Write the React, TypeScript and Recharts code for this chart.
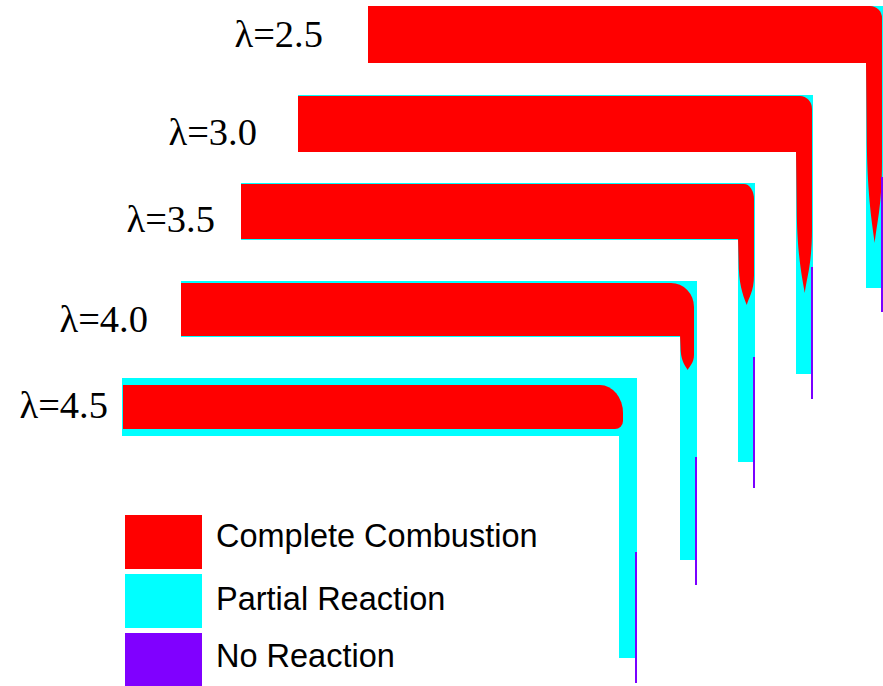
import React from 'react';
import { ComposedChart, XAxis, YAxis, ReferenceArea, ReferenceLine, Scatter } from 'recharts';

const W = 883;
const H = 686;

// channel / flame geometry per equivalence ratio (plot units = picture px)
const LAMBDAS = ['2.5', '3.0', '3.5', '4.0', '4.5'];
const CHANNEL_LEFT = [368, 298, 241, 181, 122];
const CHANNEL_RIGHT = [883, 813, 755, 697, 637];
const CHANNEL_TOP = [6, 95, 183, 281, 378];
const CHANNEL_BOTTOM = [63, 152, 240, 337, 436];
const ARM_INNER = [866, 796, 738, 680, 619];
const ARM_END = [288, 374, 462, 560, 658];
const FLAME_LEFT = [368, 298, 241, 181, 123];
const FLAME_TOP = [6, 96, 184, 283, 385];
const FLAME_BOTTOM = [63, 152, 239, 336, 429];
const FLAME_RIGHT = [882, 812, 754, 694, 623];
const FLAME_TIP = [243, 293, 305, 370, null];
const UNBURNT_START = [177, 267, 357, 457, 552];
const UNBURNT_END = [312, 399, 488, 585, 683];
const LABEL_X = [323, 257, 215, 148, 108];
const LABEL_Y = [47, 145, 232, 332, 418];

const LEGEND_NAMES = ['Complete Combustion', 'Partial Reaction', 'No Reaction'];
const LEGEND_BASELINE = [547, 610, 667];

const RED = '#ff0000';
const CYAN = '#00ffff';
const PURPLE = '#7a00ff';
const LEGEND_COLORS = [RED, CYAN, '#8000ff'];

// corner rounding of the flame front
const CORNER = [
  { rx: 12, ry: 12, rb: 0 },
  { rx: 12, ry: 13, rb: 0 },
  { rx: 10, ry: 15, rb: 0 },
  { rx: 23, ry: 24, rb: 0 },
  { rx: 23, ry: 28, rb: 8 },
];

const bodyShape = (i: number) => (p: any) => {
  const { x, y, width: w, height: h } = p;
  const { rx, ry, rb } = CORNER[i];
  const d = `M${x},${y} H${x + w - rx} A${rx},${ry} 0 0 1 ${x + w},${y + ry} V${y + h - rb} ` +
    (rb ? `A${rb},${rb} 0 0 1 ${x + w - rb},${y + h} ` : '') + `H${x} Z`;
  return <path d={d} fill={RED} />;
};

const tailShape = (p: any) => {
  const { x, y, width: w, height: h } = p;
  const d = `M${x},${y - 1} H${x + w} V${y + 0.55 * h} ` +
    `C${x + w},${y + 0.8 * h} ${x + 0.65 * w},${y + 0.9 * h} ${x + 0.55 * w},${y + h} ` +
    `C${x + 0.4 * w},${y + 0.9 * h} ${x + 0.1 * w},${y + 0.75 * h} ${x + 0.05 * w},${y + 0.45 * h} Z`;
  return <path d={d} fill={RED} />;
};

const labelData = LAMBDAS.map((l, i) => ({ x: LABEL_X[i], y: LABEL_Y[i], label: `λ=${l}` }));

const LabelText = (p: any) => (
  <text x={p.cx} y={p.cy} textAnchor="end" fontFamily="'Liberation Serif', 'Times New Roman', serif"
    fontSize={38.5} fill="#000">{p.payload.label}</text>
);

export default function App() {
  return (
    <div style={{ position: 'absolute', left: 0, top: 0, width: W, height: H, background: '#fff' }}>
      <ComposedChart width={W} height={H} margin={{ top: 0, right: 0, bottom: 0, left: 0 }}>
        <XAxis type="number" dataKey="x" domain={[0, W]} hide allowDataOverflow />
        <YAxis type="number" dataKey="y" domain={[0, H]} reversed hide allowDataOverflow />
        {LAMBDAS.map((_, i) => (
          <ReferenceArea key={`ch${i}`} x1={CHANNEL_LEFT[i]} x2={CHANNEL_RIGHT[i]} y1={CHANNEL_TOP[i]}
            y2={CHANNEL_BOTTOM[i]} fill={CYAN} fillOpacity={1} stroke="none" ifOverflow="visible" />
        ))}
        {LAMBDAS.map((_, i) => (
          <ReferenceArea key={`arm${i}`} x1={ARM_INNER[i]} x2={CHANNEL_RIGHT[i]} y1={CHANNEL_BOTTOM[i] - 1}
            y2={ARM_END[i]} fill={CYAN} fillOpacity={1} stroke="none" ifOverflow="visible" />
        ))}
        {LAMBDAS.map((_, i) => (
          <ReferenceArea key={`fl${i}`} x1={FLAME_LEFT[i]} x2={FLAME_RIGHT[i]} y1={FLAME_TOP[i]}
            y2={FLAME_BOTTOM[i]} ifOverflow="visible" shape={bodyShape(i)} />
        ))}
        {LAMBDAS.map((_, i) =>
          FLAME_TIP[i] == null ? null : (
            <ReferenceArea key={`tail${i}`} x1={ARM_INNER[i]} x2={FLAME_RIGHT[i]} y1={FLAME_BOTTOM[i]}
              y2={FLAME_TIP[i] as number} ifOverflow="visible" shape={tailShape} />
          )
        )}
        {LAMBDAS.map((_, i) => (
          <ReferenceLine key={`nr${i}`} ifOverflow="visible"
            segment={[{ x: CHANNEL_RIGHT[i] - 1, y: UNBURNT_START[i] }, { x: CHANNEL_RIGHT[i] - 1, y: UNBURNT_END[i] }]}
            stroke={PURPLE} strokeWidth={2} />
        ))}
        <Scatter data={labelData} dataKey="y" shape={LabelText} isAnimationActive={false} />
      </ComposedChart>
      {LEGEND_NAMES.map((name, i) => (
        <React.Fragment key={name}>
          <div style={{ position: 'absolute', left: 125, top: 515 + i * 59, width: 77, height: 54, background: LEGEND_COLORS[i] }} />
          <div style={{
            position: 'absolute', left: 216, top: LEGEND_BASELINE[i] - 27, lineHeight: '32px', whiteSpace: 'nowrap',
            fontFamily: "'Liberation Sans', Arial, sans-serif", fontSize: 32.5, color: '#000',
          }}>
            {name}
          </div>
        </React.Fragment>
      ))}
    </div>
  );
}
